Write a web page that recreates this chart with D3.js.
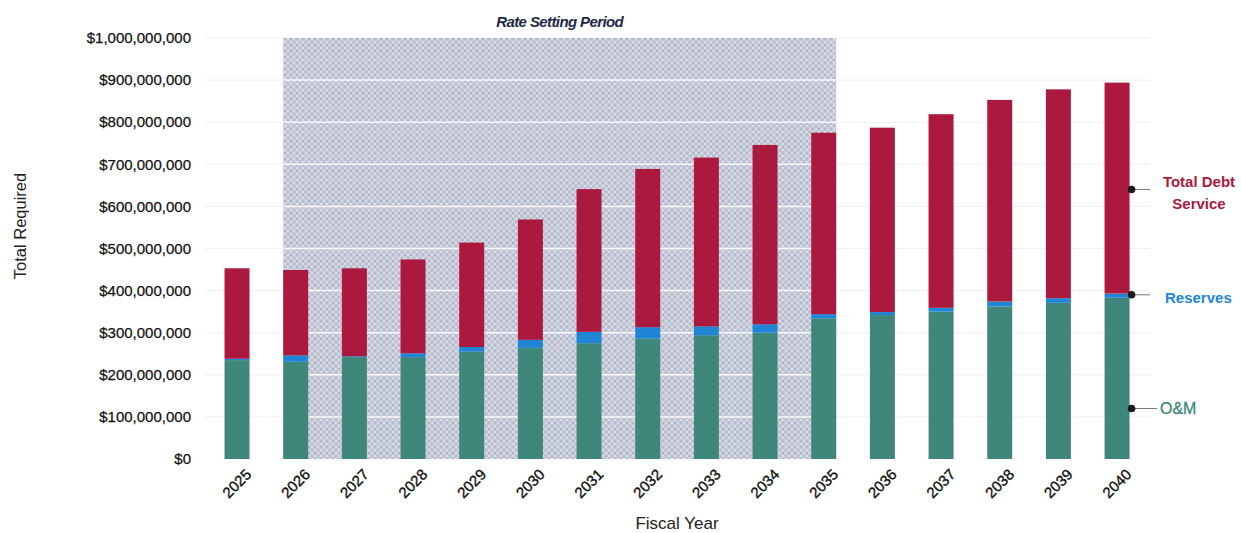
<!DOCTYPE html>
<html>
<head>
<meta charset="utf-8">
<script src="https://cdn.jsdelivr.net/npm/d3@7"></script>
<style>
  html, body { margin: 0; padding: 0; background: #fff; }
  svg { display: block; font-family: "Liberation Sans", Arial, sans-serif; }
</style>
</head>
<body>
<svg id="chart" width="1241" height="533"></svg>
<script>
// ---- Data (values in $ millions) ----
const years = ["2025","2026","2027","2028","2029","2030","2031","2032","2033","2034","2035","2036","2037","2038","2039","2040"];
const omValues = [235, 231, 242, 242, 255, 264, 275, 286, 294, 300, 334, 342, 350, 362, 371, 383];
const reserveValues = [3, 15, 2, 9, 11, 19, 27, 27, 21, 20, 10, 7, 9, 12, 11, 10];
const debtValues = [215, 203, 209, 223, 248, 286, 339, 376, 401, 426, 431, 438, 460, 479, 496, 501];
const yTicks = [0, 100, 200, 300, 400, 500, 600, 700, 800, 900, 1000];
const seriesNames = ["O&M", "Reserves", "Total Debt Service"];
const rateStart = "2026", rateEnd = "2035";
const legendAnchors = [120, 390, 640]; // value levels where legend callouts point (O&M, Reserves, Debt)

const colors = { "O&M": "#3e877a", "Reserves": "#1f86d6", "Total Debt Service": "#ab1a3e" };

const svg = d3.select("#chart");

// Scales
const x = d3.scaleBand().domain(years).range([195.2, 1158.9]).paddingInner(0.574).paddingOuter(0.5);
const y = d3.scaleLinear().domain([0, 1000]).range([459, 38]);

// Pattern for shaded period
const defs = svg.append("defs");
const pat = defs.append("pattern").attr("id", "hatch").attr("patternUnits", "userSpaceOnUse")
  .attr("width", 6).attr("height", 6);
pat.append("rect").attr("width", 6).attr("height", 6).attr("fill", "#bcc1d2");
pat.append("path").attr("d", "M0,3 L3,0 L6,3 L3,6 Z").attr("fill", "none").attr("stroke", "#dde0ea").attr("stroke-width", 1);
pat.append("circle").attr("cx", 3).attr("cy", 3).attr("r", 0.8).attr("fill", "#aeb3c6");

// Faint gridlines across the plot
const gridX0 = 205, gridX1 = 1150;
svg.append("g").selectAll("line").data(yTicks.slice(1)).join("line")
  .attr("x1", gridX0).attr("x2", gridX1)
  .attr("y1", d => y(d)).attr("y2", d => y(d))
  .attr("stroke", "#efefef").attr("stroke-width", 1);

// Shaded rate-setting region
const shadeX0 = x(rateStart), shadeX1 = x(rateEnd) + x.bandwidth();
svg.append("rect").attr("x", shadeX0).attr("y", y(1000))
  .attr("width", shadeX1 - shadeX0).attr("height", y(0) - y(1000))
  .attr("fill", "url(#hatch)");

// White gridlines over shaded region
svg.append("g").selectAll("line").data(yTicks.slice(1, -1)).join("line")
  .attr("x1", shadeX0).attr("x2", shadeX1)
  .attr("y1", d => y(d)).attr("y2", d => y(d))
  .attr("stroke", "#ffffff").attr("stroke-width", 1.5).attr("opacity", 0.9);

// Title
svg.append("text").attr("x", (shadeX0 + shadeX1) / 2).attr("y", 27)
  .attr("text-anchor", "middle").attr("font-size", 15).attr("font-weight", "bold")
  .attr("font-style", "italic").attr("fill", "#1e2947").attr("letter-spacing", -0.6)
  .text("Rate Setting Period");

// Stacked bars
const rows = years.map((yr, i) => ({ year: yr, "O&M": omValues[i], "Reserves": reserveValues[i], "Total Debt Service": debtValues[i] }));
const stacked = d3.stack().keys(seriesNames)(rows);
svg.append("g").selectAll("g").data(stacked).join("g")
  .attr("fill", d => colors[d.key])
  .selectAll("rect").data(d => d).join("rect")
  .attr("x", d => x(d.data.year)).attr("width", x.bandwidth())
  .attr("y", d => y(d[1])).attr("height", d => y(d[0]) - y(d[1]));

// Y axis labels
const fmt = d3.format("$,");
svg.append("g").selectAll("text").data(yTicks).join("text")
  .attr("x", 191).attr("y", d => y(d)).attr("dy", "0.35em")
  .attr("text-anchor", "end").attr("font-size", 15).attr("fill", "#111")
  .attr("stroke", "#111").attr("stroke-width", 0.25)
  .text(d => fmt(d * 1e6));

// X axis labels (rotated)
svg.append("g").selectAll("text").data(years).join("text")
  .attr("text-anchor", "end").attr("font-size", 15).attr("fill", "#111")
  .attr("stroke", "#111").attr("stroke-width", 0.35)
  .attr("transform", d => `translate(${x(d) + x.bandwidth() / 2 + 9},${469}) rotate(-45)`)
  .attr("dy", "0.6em")
  .text(d => d);

// Axis titles
svg.append("text").attr("transform", "translate(26,226) rotate(-90)")
  .attr("text-anchor", "middle").attr("font-size", 16.5).attr("fill", "#222")
  .text("Total Required");
svg.append("text").attr("x", 677).attr("y", 529)
  .attr("text-anchor", "middle").attr("font-size", 17).attr("fill", "#222")
  .text("Fiscal Year");

// Legend callouts
const lastYear = years[years.length - 1];
const dotX = x(lastYear) + x.bandwidth() + 2;
const legend = svg.append("g");
const legendItems = [
  { name: "O&M", level: legendAnchors[0], lineEnd: 1157 },
  { name: "Reserves", level: legendAnchors[1], lineEnd: 1150 },
  { name: "Total Debt Service", level: legendAnchors[2], lineEnd: 1150 }
];
legendItems.forEach(it => {
  const cy = y(it.level);
  legend.append("line").attr("x1", dotX).attr("x2", it.lineEnd).attr("y1", cy).attr("y2", cy)
    .attr("stroke", "#777").attr("stroke-width", 1);
  legend.append("circle").attr("cx", dotX).attr("cy", cy).attr("r", 3.8).attr("fill", "#1a1a1a");
});
legend.append("text").attr("x", 1160).attr("y", y(legendAnchors[0])).attr("dy", "0.35em")
  .attr("font-size", 16).attr("fill", colors["O&M"]).attr("stroke", colors["O&M"]).attr("stroke-width", 0.3).text("O&M");
legend.append("text").attr("x", 1165).attr("y", y(legendAnchors[1]) + 3).attr("dy", "0.35em")
  .attr("font-size", 15).attr("font-weight", "bold").attr("fill", colors["Reserves"]).text("Reserves");
const debtText = legend.append("text").attr("text-anchor", "middle")
  .attr("font-size", 15).attr("font-weight", "bold").attr("fill", colors["Total Debt Service"]);
debtText.append("tspan").attr("x", 1199).attr("y", y(legendAnchors[2]) - 3).text("Total Debt");
debtText.append("tspan").attr("x", 1199).attr("y", y(legendAnchors[2]) + 19).text("Service");
</script>
</body>
</html>
